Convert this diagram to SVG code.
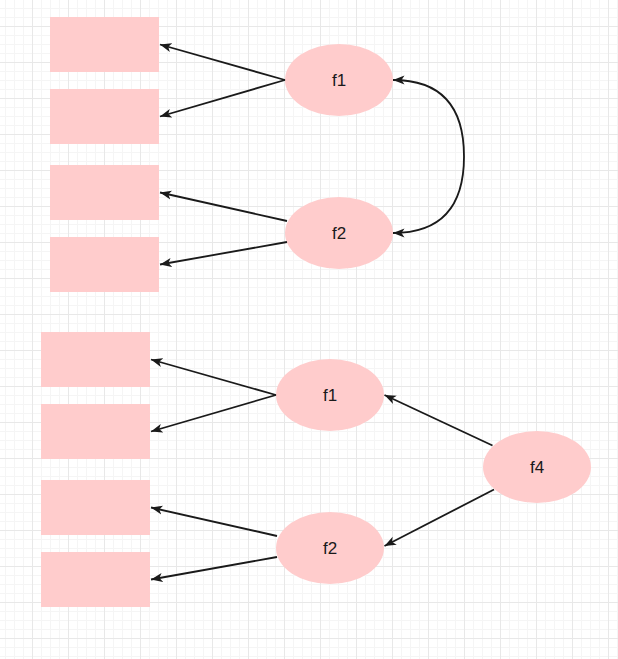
<svg xmlns="http://www.w3.org/2000/svg" width="618" height="659" viewBox="0 0 618 659">
  <defs>
    <pattern id="gridMinor" patternUnits="userSpaceOnUse" x="5" y="8" width="9" height="9">
      <path d="M0.5,0 V9 M0,0.5 H9" fill="none" stroke="#f5f5f5" stroke-width="1"/>
    </pattern>
    <pattern id="gridMajor" patternUnits="userSpaceOnUse" x="32" y="26" width="36" height="36">
      <path d="M0.5,0 V36 M0,0.5 H36" fill="none" stroke="#e8e8e8" stroke-width="1"/>
    </pattern>
    <marker id="arrow" viewBox="0 0 12 10" refX="11.5" refY="5" markerWidth="12" markerHeight="10" markerUnits="userSpaceOnUse" orient="auto-start-reverse">
      <path d="M0,0.5 L11.5,5 L0,9.5 L3,5 Z" fill="#1a1a1a"/>
    </marker>
    <style>
      .box { fill: #ffcccc; stroke: none; }
      .fn { fill: #ffcccc; stroke: none; }
      .lbl { font-family: "Liberation Sans", Arial, sans-serif; font-size: 17px; fill: #1a1a1a; text-anchor: middle; }
      .edge { fill: none; stroke: #1a1a1a; stroke-width: 1.8; marker-end: url(#arrow); }
    </style>
  </defs>

  <rect x="0" y="0" width="618" height="659" fill="#ffffff"/>
  <rect x="0" y="0" width="618" height="659" fill="url(#gridMinor)"/>
  <rect x="0" y="0" width="618" height="659" fill="url(#gridMajor)"/>

  <g id="nodes">
    <g id="rect-t1"><rect class="box" x="50" y="17" width="109" height="55"/></g>
    <g id="rect-t2"><rect class="box" x="50" y="89" width="109" height="55"/></g>
    <g id="rect-t3"><rect class="box" x="50" y="165" width="109" height="55"/></g>
    <g id="rect-t4"><rect class="box" x="50" y="237" width="109" height="55"/></g>
    <g id="rect-b1"><rect class="box" x="41" y="332" width="109" height="55"/></g>
    <g id="rect-b2"><rect class="box" x="41" y="404" width="109" height="55"/></g>
    <g id="rect-b3"><rect class="box" x="41" y="480" width="109" height="55"/></g>
    <g id="rect-b4"><rect class="box" x="41" y="552" width="109" height="55"/></g>

    <g id="f1-top"><ellipse class="fn" cx="339" cy="80" rx="54" ry="36"/><text class="lbl" x="339" y="86">f1</text></g>
    <g id="f2-top"><ellipse class="fn" cx="339" cy="233" rx="54" ry="36"/><text class="lbl" x="339" y="239">f2</text></g>
    <g id="f1-bottom"><ellipse class="fn" cx="330" cy="395" rx="54" ry="36"/><text class="lbl" x="330" y="401">f1</text></g>
    <g id="f2-bottom"><ellipse class="fn" cx="330" cy="548" rx="54" ry="36"/><text class="lbl" x="330" y="554">f2</text></g>
    <g id="f4"><ellipse class="fn" cx="537" cy="467" rx="54" ry="36"/><text class="lbl" x="537" y="473">f4</text></g>
  </g>

  <g id="connectors">
    <line class="edge" x1="285" y1="80" x2="160" y2="44.5"/>
    <line class="edge" x1="285" y1="80" x2="160" y2="116.5"/>
    <line class="edge" x1="287" y1="221" x2="160" y2="192.5"/>
    <line class="edge" x1="287" y1="242" x2="160" y2="264.5"/>
    <path class="edge" style="marker-start: url(#arrow);" d="M393,80 Q464,80 464,156.5 Q464,233 393,233"/>
    <line class="edge" x1="276" y1="395" x2="151" y2="359.5"/>
    <line class="edge" x1="276" y1="395" x2="151" y2="431.5"/>
    <line class="edge" x1="277" y1="536" x2="151" y2="507.5"/>
    <line class="edge" x1="277" y1="557" x2="151" y2="579.5"/>
    <line class="edge" x1="492.5" y1="445.5" x2="384.5" y2="395"/>
    <line class="edge" x1="494" y1="489.5" x2="384.5" y2="546"/>
  </g>
</svg>
